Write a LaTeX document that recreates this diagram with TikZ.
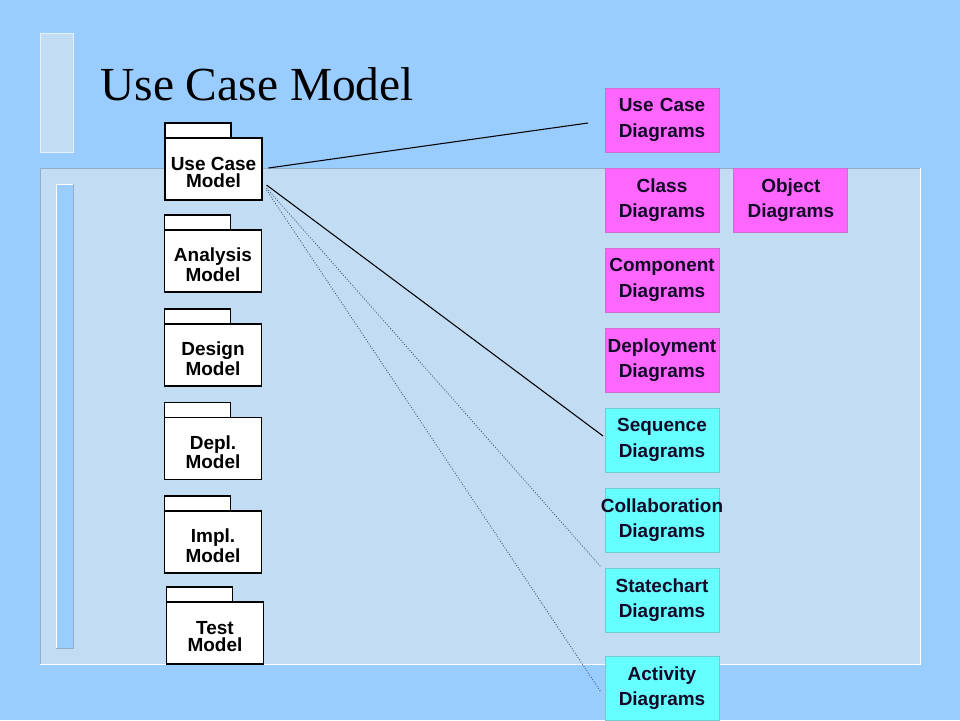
\documentclass[tikz,border=0pt]{standalone}
\usepackage{fontspec}
\setmainfont{Liberation Serif}
\setsansfont{Liberation Sans}
\usetikzlibrary{positioning}

\definecolor{slidebg}{RGB}{153,204,255}
\definecolor{panelbg}{RGB}{194,220,244}
\definecolor{edgegray}{RGB}{150,172,196}
\definecolor{pinkbox}{RGB}{255,102,255}
\definecolor{cyanbox}{RGB}{102,255,255}
\definecolor{boxtext}{RGB}{20,10,40}
\definecolor{dotline}{RGB}{70,90,120}

\tikzset{
    pkg/.style={draw=black, fill=white, line width=0.6pt,
        minimum width=1.94cm, minimum height=1.24cm, inner sep=0pt},
    pkglabel/.style={inner sep=0pt, align=center,
        font=\sffamily\bfseries\fontsize{10.8}{10}\selectfont},
    pkgtab/.style={draw=black, fill=white, line width=0.6pt},
    diag/.style={draw=#1!60!gray, fill=#1, line width=0.5pt,
        minimum width=2.28cm, minimum height=1.28cm, text width=2.28cm,
        inner sep=0pt, align=center, text=boxtext,
        font=\sffamily\bfseries\fontsize{10.8}{14.6}\selectfont},
    solidlink/.style={draw=black, line width=0.6pt},
    dotlink/.style={draw=dotline, line width=0.45pt, dash pattern=on 0.6pt off 0.9pt}
}

\begin{document}
\begin{tikzpicture}[x=0.02cm, y=-0.02cm]

    % slide background
    \path[use as bounding box, fill=slidebg] (0,0) rectangle (960,720);
    \draw[draw=white!60!panelbg, fill=panelbg] (40,33) rectangle (73,152);
    \fill[panelbg] (40,168) rectangle (920,664);
    \draw[edgegray] (40,664) -- (40,168) -- (920,168);
    \draw[white] (920,168) -- (920,664) -- (40,664);
    \fill[slidebg] (56,184) rectangle (73,648);
    \draw[white] (56,648) -- (56,184) -- (73,184);
    \draw[edgegray] (73,184) -- (73,648) -- (56,648);

    \node[font=\fontsize{27}{32}\selectfont, anchor=base west, inner sep=0pt]
        (title) at (100,100) {Use Case Model};

    % packages
    \foreach \px/\py/\nm/\txt in {213.5/169/ucm/{Use Case\\Model},
            213/261/anm/{Analysis\\Model}, 213/355/dsm/{Design\\Model},
            213/448.5/dpm/{Depl.\\Model}, 213/542/imm/{Impl.\\Model},
            215/633/tsm/{Test\\Model}} {
        \draw[pkgtab] (\px-48.5,\py-31) rectangle ++(66,-15);
        \node[pkg] (\nm) at (\px,\py) {};
        \node[pkglabel] (\nm-txt) at ([yshift=-0.07cm]\nm.center) {\txt};
    }

    % diagrams
    \foreach \py/\nm/\col/\txt in {120/ucd/pinkbox/{Use Case\\Diagrams},
            200/cld/pinkbox/{Class\\Diagrams}, 280/cpd/pinkbox/{Component\\Diagrams},
            360/dpd/pinkbox/{Deployment\\Diagrams}, 440/sqd/cyanbox/{Sequence\\Diagrams},
            520/cod/cyanbox/{\makebox[0pt]{Collaboration}\\Diagrams},
            600/scd/cyanbox/{Statechart\\Diagrams}, 688/acd/cyanbox/{Activity\\Diagrams}}
        \node[diag=\col] (\nm) at (662,\py) {\txt};
    \node[diag=pinkbox, right=0.28cm of cld] (obd) {Object\\Diagrams};

    % links
    \coordinate (ucd-end) at (588,123);
    \coordinate (sqd-end) at (603,436);
    \coordinate (scd-end) at (601,567);
    \coordinate (acd-end) at (601,692);
    \draw[solidlink] ([shift={(6,-1)}]ucm.east) -- (ucd-end);
    \draw[solidlink] ([shift={(4,16)}]ucm.east) -- (sqd-end);
    \draw[dotlink] ([shift={(4,19)}]ucm.east) -- (scd-end);
    \draw[dotlink] ([shift={(4,21)}]ucm.east) -- (acd-end);

\end{tikzpicture}
\end{document}
